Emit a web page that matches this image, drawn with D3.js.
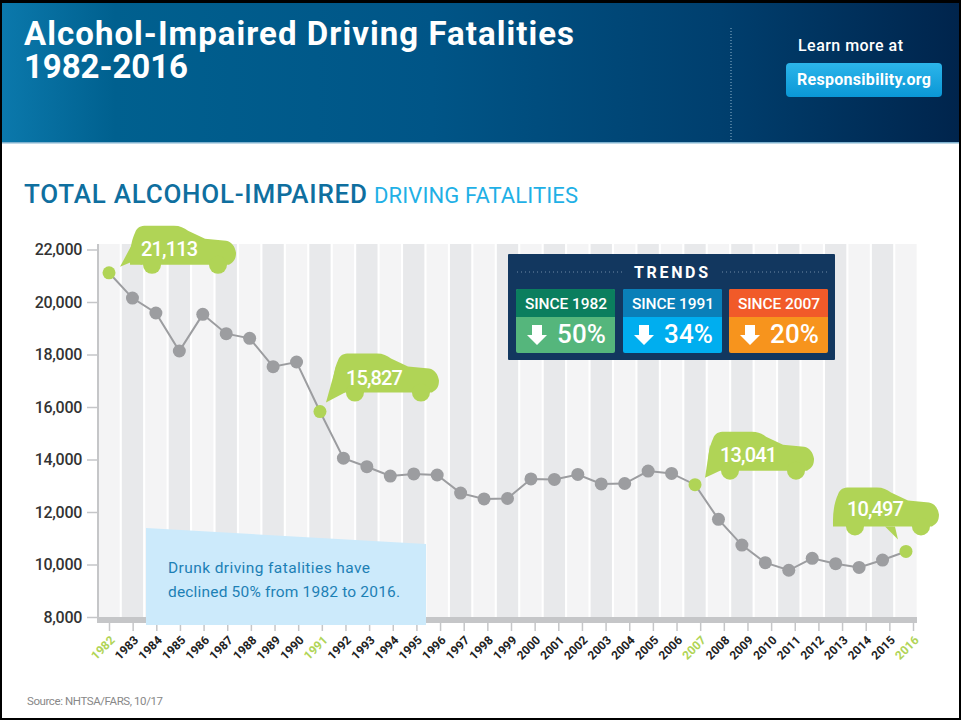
<!DOCTYPE html>
<html>
<head>
<meta charset="utf-8">
<script src="https://cdn.jsdelivr.net/npm/d3@7"></script>
<style>
  body { margin: 0; background: #fff; }
  svg { display: block; }
  text { font-family: Roboto, sans-serif; }
</style>
</head>
<body>
<svg id="chart" width="961" height="720"></svg>
<script>
let years = d3.range(1982, 2017)
let fatalities = [21113, 20150, 19580, 18133, 19530, 18793, 18617, 17537, 17714, 15827,
  14050, 13725, 13370, 13450, 13410, 12720, 12500, 12515, 13260, 13240,
  13430, 13070, 13085, 13560, 13470, 13041, 11720, 10740, 10070, 9780,
  10235, 10030, 9890, 10170, 10497]
let highlightYears = [1982, 1991, 2007, 2016]
let yTicks = [8000, 10000, 12000, 14000, 16000, 18000, 20000, 22000]
let trendLabels = ["SINCE 1982", "SINCE 1991", "SINCE 2007"]
let trendValues = ["50%", "34%", "20%"]

let green = "#b0d456"
let svg = d3.select("#chart")

let xBand = d3.scaleBand().domain(years).range([97.3, 917.7]).paddingInner(0.09).paddingOuter(0.045)
let x = d => xBand(d) + xBand.bandwidth() / 2
// the tick marks run slightly wider than the stripes in the original
let xTick = d3.scalePoint().domain(years).range([109, 913])
let y = d3.scaleLinear().domain([8000, 22000]).range([617, 249.5])

// header
let grad = svg.append("defs").append("linearGradient").attr("id", "head")
grad.selectAll("stop")
  .data([[0, "#0b79ac"], [0.12, "#00608f"], [0.45, "#005587"], [0.75, "#003f6e"], [1, "#00244c"]])
  .enter().append("stop")
  .attr("offset", d => d[0])
  .attr("stop-color", d => d[1])
let btn = svg.select("defs").append("linearGradient").attr("id", "btn").attr("x2", 0).attr("y2", 1)
btn.selectAll("stop")
  .data([[0, "#2cb5ea"], [1, "#0a97d6"]])
  .enter().append("stop")
  .attr("offset", d => d[0])
  .attr("stop-color", d => d[1])

svg.append("rect").attr("width", 961).attr("height", 143).attr("fill", "url(#head)")
svg.append("rect").attr("y", 142).attr("width", 961).attr("height", 1.5).attr("fill", "#7fb2cf")
svg.append("line")
  .attr("x1", 731).attr("x2", 731).attr("y1", 28).attr("y2", 143)
  .attr("stroke", "#8fb4cc").attr("stroke-dasharray", "1 2")

function label(parent, str, px, py, size, weight, fill, width, anchor) {
  let t = parent.append("text")
    .attr("x", px).attr("y", py)
    .attr("font-size", size).attr("font-weight", weight).attr("fill", fill)
    .attr("text-anchor", anchor || "start")
    .text(str)
  if (width) t.attr("textLength", width).attr("lengthAdjust", "spacing")
  return t
}

let title = svg.append("text").attr("font-size", 33).attr("font-weight", 700).attr("fill", "#fff")
title.append("tspan").attr("x", 24).attr("y", 45).attr("textLength", 550).text("Alcohol-Impaired Driving Fatalities")
title.append("tspan").attr("x", 24).attr("y", 78).attr("textLength", 164).text("1982-2016")

label(svg, "Learn more at", 798, 51, 16, 500, "#fff", 105)
svg.append("rect")
  .attr("x", 786).attr("y", 63).attr("width", 156).attr("height", 34).attr("rx", 4)
  .attr("fill", "url(#btn)")
label(svg, "Responsibility.org", 797, 85, 16, 700, "#fff", 134)

label(svg, "TOTAL ALCOHOL-IMPAIRED", 24, 203, 26, 500, "#0f6f9f", 343)
label(svg, "DRIVING FATALITIES", 374, 203, 22, 400, "#1fb0e6", 204)

// stripes
svg.append("g").selectAll("rect")
  .data(years).enter().append("rect")
  .attr("x", d => xBand(d))
  .attr("y", 244)
  .attr("width", xBand.bandwidth())
  .attr("height", 373)
  .attr("fill", (d, i) => i % 2 ? "#e8e9eb" : "#f4f4f5")

// axes
let yAxis = svg.append("g")
  .attr("transform", "translate(98,0)")
  .call(d3.axisLeft(y).tickValues(yTicks).tickSize(11).tickPadding(5).tickFormat(d3.format(",")))
yAxis.select(".domain").remove()
yAxis.selectAll("line").attr("stroke", "#c5c6c8").attr("stroke-width", 1.5)
yAxis.selectAll("text")
  .attr("font-size", 16).attr("font-weight", 500).attr("fill", "#333")
  .attr("letter-spacing", -0.3)
  .attr("font-family", "Roboto, sans-serif")
svg.append("rect").attr("x", 97).attr("y", 244).attr("width", 2).attr("height", 379).attr("fill", "#c5c6c8")
svg.append("rect").attr("x", 97).attr("y", 617).attr("width", 820).attr("height", 6).attr("fill", "#c5c6c8")

let xAxis = svg.append("g")
  .attr("transform", "translate(0,622)")
  .call(d3.axisBottom(xTick).tickSize(9).tickFormat(d => d))
xAxis.select(".domain").remove()
xAxis.selectAll("line").attr("stroke", "#c5c6c8").attr("stroke-width", 1.5)
xAxis.selectAll("text")
  .attr("font-size", 12).attr("font-weight", 700)
  .attr("font-family", "Roboto, sans-serif")
  .attr("text-anchor", "end")
  .attr("fill", d => highlightYears.includes(d) ? green : "#222")
  .attr("y", 0).attr("dy", 0)
  .attr("transform", "translate(6,19) rotate(-45)")

// line and points
let points = years.map((d, i) => ({ year: d, value: fatalities[i] }))
svg.append("path")
  .datum(points)
  .attr("d", d3.line().x(d => x(d.year)).y(d => y(d.value)))
  .attr("fill", "none")
  .attr("stroke", "#9c9da0")
  .attr("stroke-width", 2)
svg.append("g").selectAll("circle")
  .data(points).enter().append("circle")
  .attr("cx", d => x(d.year))
  .attr("cy", d => y(d.value))
  .attr("r", 6.5)
  .attr("fill", d => highlightYears.includes(d.year) ? green : "#9c9da0")

// car callouts, origin is the bottom left corner of the body
let carBody = "M0,-6 C0,-16 2,-26 5,-32 C7,-38 11,-39 16,-39 L44,-39 C50,-39 54,-37 58,-34 L75,-26 L96,-24 C102,-23 105,-18 106,-12 C106,-6 104,-3 99,0 L0,0 Z"
let callouts = [
  { year: 1982, dx: 21, dy: -8, tail: "M-10,2 L2,-3 L12,0 L5,-26 Z", textX: 11, textY: -9 },
  { year: 1991, dx: 13, dy: -19, tail: "M-7,10 L3,-26 L12,0 Z", textX: 13, textY: -8 },
  { year: 2007, dx: 13, dy: -14, tail: "M-3,7 L2,-26 L12,0 Z", textX: 12, textY: -9 },
  { year: 2016, dx: -73, dy: -25, tail: "M52,0 L62,0 L65,13 Z", textX: 14, textY: -10.5 }
]
callouts.forEach(c => {
  let v = fatalities[years.indexOf(c.year)]
  let g = svg.append("g")
    .attr("transform", `translate(${x(c.year) + c.dx},${y(v) + c.dy})`)
  g.append("path").attr("d", c.tail).attr("fill", green)
  g.append("path").attr("d", carBody).attr("fill", green)
  g.selectAll("circle").data([22, 88]).enter().append("circle")
    .attr("cx", d => d).attr("cy", 0).attr("r", 9).attr("fill", green)
  label(g, d3.format(",")(v), c.textX, c.textY, 20, 500, "#fff", 57)
})

// trends box
let box = svg.append("g")
box.append("rect").attr("x", 508).attr("y", 254).attr("width", 327).attr("height", 106).attr("rx", 1).attr("fill", "#12375f")
label(box, "TRENDS", 634, 278, 16, 700, "#fff", 74)
box.selectAll("line").data([[517, 622], [722, 827]]).enter().append("line")
  .attr("x1", d => d[0]).attr("x2", d => d[1]).attr("y1", 272).attr("y2", 272)
  .attr("stroke", "#6f8aa6").attr("stroke-dasharray", "1 3")

let cardX = d3.scaleOrdinal().domain(trendLabels).range([516, 623, 729])
let cardTop = d3.scaleOrdinal().domain(trendLabels).range(["#0b7e5e", "#0a7fb8", "#f15a29"])
let cardBottom = d3.scaleOrdinal().domain(trendLabels).range(["#55b67c", "#00aeef", "#f7941d"])
trendLabels.forEach((d, i) => {
  let g = box.append("g").attr("transform", `translate(${cardX(d)},289)`)
  g.append("rect").attr("width", 99).attr("height", 64).attr("rx", 2).attr("fill", cardBottom(d))
  g.append("path").attr("d", "M0,28 V2 Q0,0 2,0 H97 Q99,0 99,2 V28 Z").attr("fill", cardTop(d))
  label(g, d, 9, 20, 15.5, 500, "#fff", 82)
  g.append("path")
    .attr("d", "M16,36 H26 V46 H31 L21,56 L11,46 H16 Z")
    .attr("fill", "#fff")
  label(g, trendValues[i], 41, 54, 26, 500, "#fff", 49)
})

// note
svg.append("path")
  .attr("d", "M146,528 L426,544 L426,625 L146,625 Z")
  .attr("fill", "#cceafb")
label(svg, "Drunk driving fatalities have", 168, 573, 15.5, 400, "#1c80b5", 202)
label(svg, "declined 50% from 1982 to 2016.", 168, 597, 15.5, 400, "#1c80b5", 232)

label(svg, "Source: NHTSA/FARS, 10/17", 27, 705, 11.5, 400, "#888", 136)

// page frame
svg.append("path")
  .attr("d", "M0,0H961V720H0Z M2,3H959V718H2Z")
  .attr("fill", "#000").attr("fill-rule", "evenodd")
</script>
</body>
</html>
